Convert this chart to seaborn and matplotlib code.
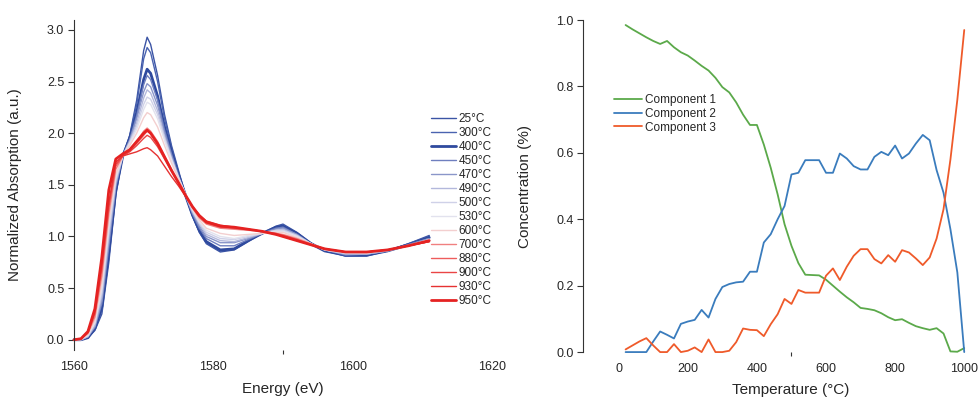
import numpy as np
import pandas as pd
import matplotlib
matplotlib.use('Agg')
import matplotlib.pyplot as plt
import seaborn as sns

# ---- left panel: XANES spectra ----
energy = [1560, 1561, 1562, 1563, 1564, 1565, 1566, 1567, 1568, 1569, 1570, 1570.5, 1571, 1572,
          1573, 1574, 1575, 1576, 1577, 1578, 1579, 1581, 1583, 1585, 1587, 1589, 1590, 1592,
          1594, 1596, 1599, 1602, 1605, 1608, 1611]

temps = ['25°C', '300°C', '400°C', '450°C', '470°C', '490°C', '500°C', '530°C',
         '600°C', '700°C', '880°C', '900°C', '930°C', '950°C']

abs_25 = [0.00, 0.00, 0.02, 0.09, 0.25, 0.75, 1.40, 1.78, 1.98, 2.32, 2.80, 2.93, 2.86, 2.56, 2.18, 1.88, 1.64, 1.40, 1.20, 1.04, 0.93, 0.85, 0.87, 0.95, 1.03, 1.10, 1.12, 1.04, 0.94, 0.87, 0.81, 0.81, 0.86, 0.93, 1.01]
abs_300 = [0.00, 0.00, 0.02, 0.10, 0.28, 0.80, 1.42, 1.78, 1.97, 2.28, 2.72, 2.83, 2.78, 2.50, 2.14, 1.86, 1.62, 1.40, 1.20, 1.04, 0.94, 0.86, 0.88, 0.96, 1.03, 1.09, 1.11, 1.03, 0.93, 0.86, 0.81, 0.82, 0.86, 0.93, 1.00]
abs_400 = [0.00, 0.00, 0.02, 0.11, 0.32, 0.85, 1.45, 1.78, 1.95, 2.20, 2.52, 2.62, 2.58, 2.36, 2.06, 1.82, 1.60, 1.40, 1.21, 1.06, 0.95, 0.87, 0.88, 0.96, 1.03, 1.09, 1.10, 1.03, 0.93, 0.86, 0.82, 0.82, 0.86, 0.92, 0.99]
abs_450 = [0.00, 0.00, 0.03, 0.12, 0.35, 0.90, 1.48, 1.78, 1.94, 2.17, 2.47, 2.56, 2.52, 2.32, 2.03, 1.80, 1.59, 1.40, 1.22, 1.08, 0.98, 0.91, 0.91, 0.97, 1.03, 1.08, 1.09, 1.02, 0.93, 0.87, 0.82, 0.83, 0.86, 0.92, 0.98]
abs_470 = [0.00, 0.00, 0.03, 0.13, 0.38, 0.95, 1.50, 1.78, 1.93, 2.14, 2.40, 2.48, 2.45, 2.27, 2.00, 1.78, 1.58, 1.40, 1.23, 1.10, 1.00, 0.94, 0.94, 0.98, 1.03, 1.07, 1.08, 1.02, 0.93, 0.87, 0.83, 0.83, 0.86, 0.92, 0.98]
abs_490 = [0.00, 0.00, 0.03, 0.14, 0.42, 1.00, 1.52, 1.78, 1.92, 2.10, 2.34, 2.42, 2.39, 2.22, 1.97, 1.76, 1.57, 1.40, 1.24, 1.12, 1.02, 0.96, 0.95, 0.99, 1.03, 1.06, 1.07, 1.01, 0.93, 0.87, 0.83, 0.83, 0.86, 0.91, 0.97]
abs_500 = [0.00, 0.00, 0.04, 0.16, 0.46, 1.05, 1.55, 1.78, 1.91, 2.07, 2.28, 2.35, 2.33, 2.18, 1.95, 1.75, 1.57, 1.41, 1.25, 1.13, 1.04, 0.98, 0.97, 1.00, 1.03, 1.06, 1.06, 1.01, 0.93, 0.87, 0.84, 0.84, 0.87, 0.91, 0.97]
abs_530 = [0.00, 0.01, 0.04, 0.17, 0.50, 1.10, 1.57, 1.78, 1.90, 2.04, 2.23, 2.30, 2.28, 2.14, 1.93, 1.74, 1.57, 1.41, 1.26, 1.14, 1.06, 1.00, 0.98, 1.01, 1.03, 1.05, 1.05, 1.00, 0.93, 0.87, 0.84, 0.84, 0.87, 0.91, 0.97]
abs_600 = [0.00, 0.01, 0.05, 0.19, 0.55, 1.15, 1.60, 1.78, 1.88, 2.00, 2.15, 2.20, 2.18, 2.06, 1.88, 1.71, 1.56, 1.41, 1.27, 1.16, 1.08, 1.03, 1.01, 1.02, 1.03, 1.04, 1.04, 0.99, 0.93, 0.88, 0.85, 0.84, 0.87, 0.91, 0.96]
abs_700 = [0.00, 0.01, 0.06, 0.22, 0.62, 1.22, 1.65, 1.78, 1.84, 1.92, 2.02, 2.05, 2.02, 1.92, 1.78, 1.65, 1.53, 1.40, 1.28, 1.18, 1.12, 1.08, 1.07, 1.06, 1.05, 1.03, 1.02, 0.98, 0.93, 0.88, 0.85, 0.85, 0.87, 0.91, 0.96]
abs_880 = [0.00, 0.01, 0.07, 0.25, 0.68, 1.28, 1.68, 1.78, 1.83, 1.90, 1.98, 2.02, 2.00, 1.90, 1.77, 1.64, 1.52, 1.40, 1.29, 1.20, 1.13, 1.09, 1.08, 1.07, 1.05, 1.03, 1.01, 0.97, 0.92, 0.88, 0.85, 0.85, 0.87, 0.91, 0.95]
abs_900 = [0.00, 0.01, 0.07, 0.26, 0.70, 1.30, 1.70, 1.78, 1.82, 1.88, 1.95, 1.98, 1.96, 1.87, 1.75, 1.63, 1.52, 1.40, 1.29, 1.20, 1.14, 1.10, 1.08, 1.07, 1.05, 1.02, 1.01, 0.97, 0.92, 0.88, 0.85, 0.85, 0.87, 0.91, 0.95]
abs_930 = [0.00, 0.01, 0.08, 0.28, 0.74, 1.33, 1.72, 1.78, 1.80, 1.82, 1.85, 1.86, 1.84, 1.78, 1.68, 1.58, 1.49, 1.39, 1.29, 1.21, 1.15, 1.11, 1.09, 1.07, 1.05, 1.02, 1.00, 0.96, 0.92, 0.88, 0.85, 0.85, 0.87, 0.91, 0.95]
abs_950 = [0.00, 0.01, 0.08, 0.30, 0.80, 1.45, 1.75, 1.80, 1.84, 1.92, 2.00, 2.03, 2.00, 1.90, 1.77, 1.64, 1.52, 1.40, 1.29, 1.20, 1.14, 1.10, 1.09, 1.07, 1.05, 1.02, 1.00, 0.96, 0.92, 0.88, 0.85, 0.85, 0.87, 0.91, 0.96]

spectra = [abs_25, abs_300, abs_400, abs_450, abs_470, abs_490, abs_500, abs_530,
           abs_600, abs_700, abs_880, abs_900, abs_930, abs_950]
spec_colors = ['#3b54a5', '#4a63b0', '#2f4a9e', '#6f7fbf', '#8a96c9', '#b3b8dc', '#cfd1e8',
               '#e2e2ee', '#f3cfcf', '#f08080', '#ee5c5c', '#ea4545', '#e63232', '#e52222']
spec_widths = [1.0, 1.0, 2.0, 1.0, 1.0, 1.0, 1.0, 1.0, 1.0, 1.0, 1.0, 1.0, 1.0, 2.0]

# ---- right panel: component concentrations ----
temperature = list(range(20, 1001, 20))
comp1 = [0.985, 0.972, 0.960, 0.948, 0.937, 0.928, 0.937, 0.918, 0.903, 0.893,
         0.878, 0.862, 0.848, 0.826, 0.798, 0.782, 0.752, 0.715, 0.684, 0.684,
         0.625, 0.555, 0.475, 0.385, 0.320, 0.268, 0.233, 0.232, 0.231, 0.218,
         0.200, 0.182, 0.165, 0.150, 0.133, 0.130, 0.126, 0.117, 0.105, 0.096,
         0.099, 0.088, 0.078, 0.072, 0.067, 0.072, 0.056, 0.002, 0.001, 0.012]
comp2 = [0.0, 0.0, 0.0, 0.0, 0.032, 0.062, 0.052, 0.041, 0.085, 0.092,
         0.097, 0.127, 0.104, 0.160, 0.196, 0.205, 0.210, 0.212, 0.242, 0.242,
         0.330, 0.355, 0.400, 0.440, 0.535, 0.540, 0.578, 0.578, 0.578, 0.540,
         0.540, 0.598, 0.583, 0.560, 0.550, 0.550, 0.588, 0.603, 0.593, 0.622,
         0.583, 0.598, 0.628, 0.654, 0.638, 0.548, 0.480, 0.370, 0.240, 0.0]
comp3 = [0.008, 0.020, 0.032, 0.042, 0.020, 0.000, 0.000, 0.024, 0.000, 0.004,
         0.014, 0.000, 0.038, 0.000, 0.000, 0.004, 0.030, 0.071, 0.067, 0.066,
         0.048, 0.084, 0.114, 0.160, 0.145, 0.187, 0.179, 0.179, 0.179, 0.230,
         0.252, 0.217, 0.257, 0.290, 0.310, 0.310, 0.280, 0.267, 0.292, 0.272,
         0.307, 0.300, 0.282, 0.262, 0.285, 0.342, 0.430, 0.580, 0.760, 0.970]
comp_names = ['Component 1', 'Component 2', 'Component 3']
comp_colors = ['#5ba94a', '#3a7cbd', '#ef5a2a']

sns.set_theme(style='white')
plt.rcParams['font.family'] = ['Liberation Sans', 'DejaVu Sans']

fig = plt.figure(figsize=(9.8, 4.01), dpi=100)
ax1 = fig.add_axes([0.0755, 0.127, 0.4265, 0.824])
ax2 = fig.add_axes([0.595, 0.122, 0.3995, 0.828])

# spectra
for label, vals, c, lw in zip(temps, spectra, spec_colors, spec_widths):
    sns.lineplot(x=energy, y=vals, ax=ax1, color=c, lw=lw, label=label)
ax1.set_xlim(1560, 1620)
ax1.set_ylim(-0.1, 3.1)
ax1.set_xticks([1560, 1580, 1600, 1620])
ax1.set_xticks([1580, 1590], minor=True)
ax1.set_yticks([0.0, 0.5, 1.0, 1.5, 2.0, 2.5, 3.0])
ax1.set_yticklabels(['0.0', '0.5', '1.0', '1.5', '2.0', '2.5', '3.0'])
ax1.set_xlabel('Energy (eV)', fontsize=11)
ax1.set_ylabel('Normalized Absorption (a.u.)', fontsize=11)
ax1.legend(loc='upper left', bbox_to_anchor=(0.84, 0.735), frameon=False, fontsize=8.5,
           handlelength=2.1, labelspacing=0.17, borderpad=0, handletextpad=0.25)

# concentrations
for name, vals, c in zip(comp_names, [comp1, comp2, comp3], comp_colors):
    sns.lineplot(x=temperature, y=vals, ax=ax2, color=c, lw=1.3, label=name)
ax2.set_xlim(-103, 1030)
ax2.set_ylim(0, 1.0)
ax2.set_xticks([0, 200, 400, 600, 800, 1000])
ax2.set_xticks([400, 500], minor=True)
ax2.set_yticks([0.0, 0.2, 0.4, 0.6, 0.8, 1.0])
ax2.set_yticklabels(['0.0', '0.2', '0.4', '0.6', '0.8', '1.0'])
ax2.set_xlabel('Temperature (°C)', fontsize=11)
ax2.set_ylabel('Concentration (%)', fontsize=11)
ax2.legend(loc='upper left', bbox_to_anchor=(0.065, 0.795), frameon=False, fontsize=8.5,
           handlelength=2.3, labelspacing=0.15, borderpad=0, handletextpad=0.3)

for ax in (ax1, ax2):
    sns.despine(ax=ax, bottom=True)
    ax.spines['left'].set_color('#333333')
    ax.spines['left'].set_linewidth(0.8)
    ax.tick_params(axis='y', which='major', left=True, length=4, width=0.8, color='#333333',
                   labelsize=9, pad=3)
    ax.tick_params(axis='x', which='major', bottom=False, length=0, labelsize=9, pad=8)
    ax.tick_params(axis='x', which='minor', bottom=True, length=3, width=0.8, color='#333333')
    for line in ax.get_lines():
        line.set_clip_on(False)
ax1.xaxis.set_label_coords(0.5, -0.097)
ax2.xaxis.set_label_coords(0.53, -0.093)
ax1.yaxis.set_label_coords(-0.125, 0.5)
ax2.yaxis.set_label_coords(-0.13, 0.5)

fig.savefig('out.png', dpi=100)
